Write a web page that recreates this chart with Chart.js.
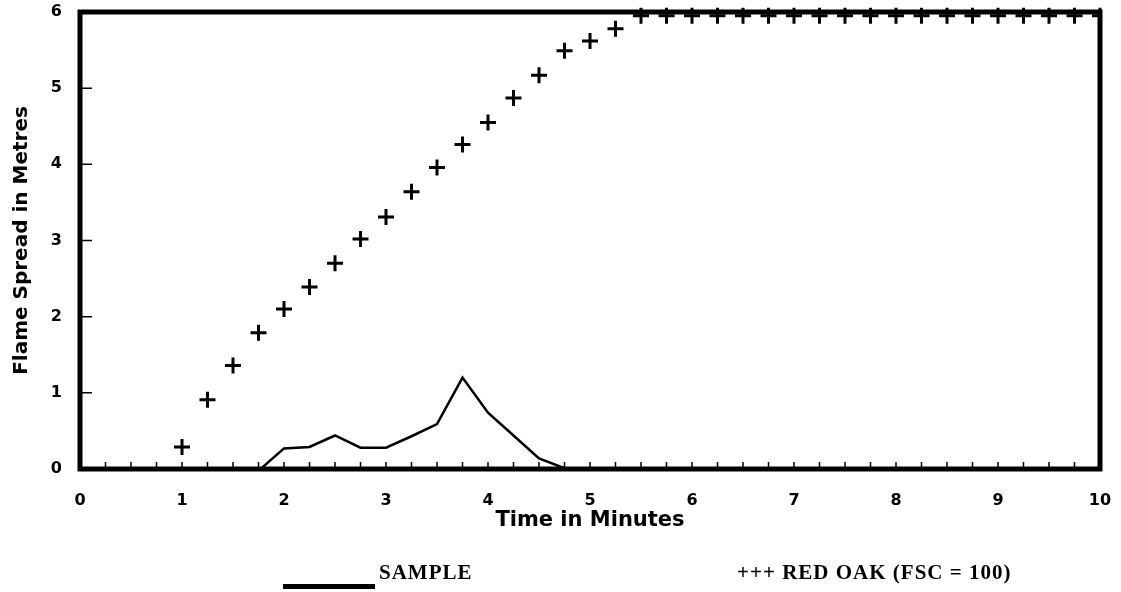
<!DOCTYPE html>
<html>
<head>
<meta charset="utf-8">
<script src="https://cdn.jsdelivr.net/npm/chart.js@4.4.1/dist/chart.umd.min.js"></script>
<style>
  html, body { margin: 0; padding: 0; background: #fff; }
  #wrap { position: relative; width: 1121px; height: 592px; }
  #chart { position: absolute; left: 0; top: 0; }
  .legend { position: absolute; font-family: "Liberation Serif", serif; font-weight: bold; font-size: 21px; letter-spacing: 1px; color: #000; white-space: nowrap; }
  #sampleLine { position: absolute; left: 283px; top: 584px; width: 92px; height: 5px; background: #000; }
</style>
</head>
<body>
<div id="wrap">
  <canvas id="chart" width="1121" height="592"></canvas>
  <div id="sampleLine"></div>
  <div class="legend" style="left:379px; top:560px;">SAMPLE</div>
  <div class="legend" style="left:737px; top:560px;">+++ RED OAK (FSC = 100)</div>
</div>
<script>
// time in minutes
const oakTimes = [1, 1.25, 1.5, 1.75, 2, 2.25, 2.5, 2.75, 3, 3.25, 3.5, 3.75, 4, 4.25, 4.5, 4.75, 5, 5.25,
  5.5, 5.75, 6, 6.25, 6.5, 6.75, 7, 7.25, 7.5, 7.75, 8, 8.25, 8.5, 8.75, 9, 9.25, 9.5, 9.75, 10];
const oakSpread = [0.29, 0.91, 1.36, 1.79, 2.10, 2.39, 2.70, 3.02, 3.31, 3.64, 3.96, 4.26, 4.55, 4.87, 5.17, 5.49, 5.62, 5.78,
  5.95, 5.95, 5.95, 5.95, 5.95, 5.95, 5.95, 5.95, 5.95, 5.95, 5.95, 5.95, 5.95, 5.95, 5.95, 5.95, 5.95, 5.95, 5.95];

const sampleTimes = [0, 0.5, 1, 1.5, 1.77, 2, 2.25, 2.5, 2.75, 3, 3.25, 3.5, 3.75, 4, 4.25, 4.5, 4.75];
const sampleSpread = [0, 0, 0, 0, 0, 0.27, 0.29, 0.44, 0.28, 0.28, 0.43, 0.59, 1.20, 0.74, 0.44, 0.14, 0.01];

const xTicks = [0, 1, 2, 3, 4, 5, 6, 7, 8, 9, 10];
const yTicks = [0, 1, 2, 3, 4, 5, 6];

const toPoints = (xs, ys) => xs.map((x, i) => ({ x: x, y: ys[i] }));

const tickFont = { family: 'DejaVu Sans', weight: 'bold', size: 16 };

// frame + inward tick marks
const framePlugin = {
    id: 'frame',
    beforeDatasetsDraw(chart) {
        const { ctx, chartArea: a, scales: { x, y } } = chart;
        ctx.save();
        ctx.strokeStyle = '#000';
        ctx.lineWidth = 1.5;
        ctx.beginPath();
        for (let v = 0; v <= 10; v += 0.25) {
            const px = x.getPixelForValue(v);
            ctx.moveTo(px, a.bottom);
            ctx.lineTo(px, a.bottom - 7);
        }
        yTicks.forEach(v => {
            const py = y.getPixelForValue(v);
            ctx.moveTo(a.left, py);
            ctx.lineTo(a.left + 12, py);
        });
        ctx.stroke();
        ctx.lineWidth = 5;
        ctx.strokeRect(a.left, a.top, a.right - a.left, a.bottom - a.top);
        ctx.restore();
    }
};

new Chart(document.getElementById('chart'), {
    type: 'scatter',
    data: {
        datasets: [
            {
                label: 'SAMPLE',
                data: toPoints(sampleTimes, sampleSpread),
                showLine: true,
                borderColor: '#000',
                borderWidth: 2.5,
                pointRadius: 0,
                tension: 0
            },
            {
                label: 'RED OAK (FSC = 100)',
                data: toPoints(oakTimes, oakSpread),
                showLine: false,
                pointStyle: 'cross',
                pointRadius: 8,
                borderColor: '#000',
                backgroundColor: '#000',
                pointBorderWidth: 3,
                clip: { left: 10, top: 10, right: 2, bottom: 10 }
            }
        ]
    },
    options: {
        responsive: false,
        animation: false,
        events: [],
        layout: { padding: { left: 0, top: 12, right: 21, bottom: 52 } },
        plugins: { legend: { display: false }, tooltip: { enabled: false } },
        scales: {
            x: {
                type: 'linear',
                min: 0,
                max: 10,
                afterBuildTicks: s => { s.ticks = xTicks.map(v => ({ value: v })); },
                ticks: { color: '#000', font: tickFont, padding: 22, maxRotation: 0 },
                grid: { display: false, drawTicks: false },
                border: { display: false },
                afterFit: s => { s.height = 71; s.paddingLeft = 0; s.paddingRight = 0; },
                title: {
                    display: true,
                    text: 'Time in Minutes',
                    color: '#000',
                    font: { family: 'DejaVu Sans', weight: 'bold', size: 21 },
                    padding: { top: 0, bottom: 7 }
                }
            },
            y: {
                min: 0,
                max: 6,
                afterBuildTicks: s => { s.ticks = yTicks.map(v => ({ value: v })); },
                ticks: { color: '#000', font: tickFont, padding: 18 },
                grid: { display: false, drawTicks: false },
                border: { display: false },
                afterFit: s => { s.width = 80; s.paddingTop = 0; s.paddingBottom = 0; },
                title: {
                    display: true,
                    text: 'Flame Spread in Metres',
                    color: '#000',
                    font: { family: 'DejaVu Sans', weight: 'bold', size: 20 },
                    padding: { top: 10, bottom: 0 }
                }
            }
        }
    },
    plugins: [framePlugin]
});
</script>
</body>
</html>
